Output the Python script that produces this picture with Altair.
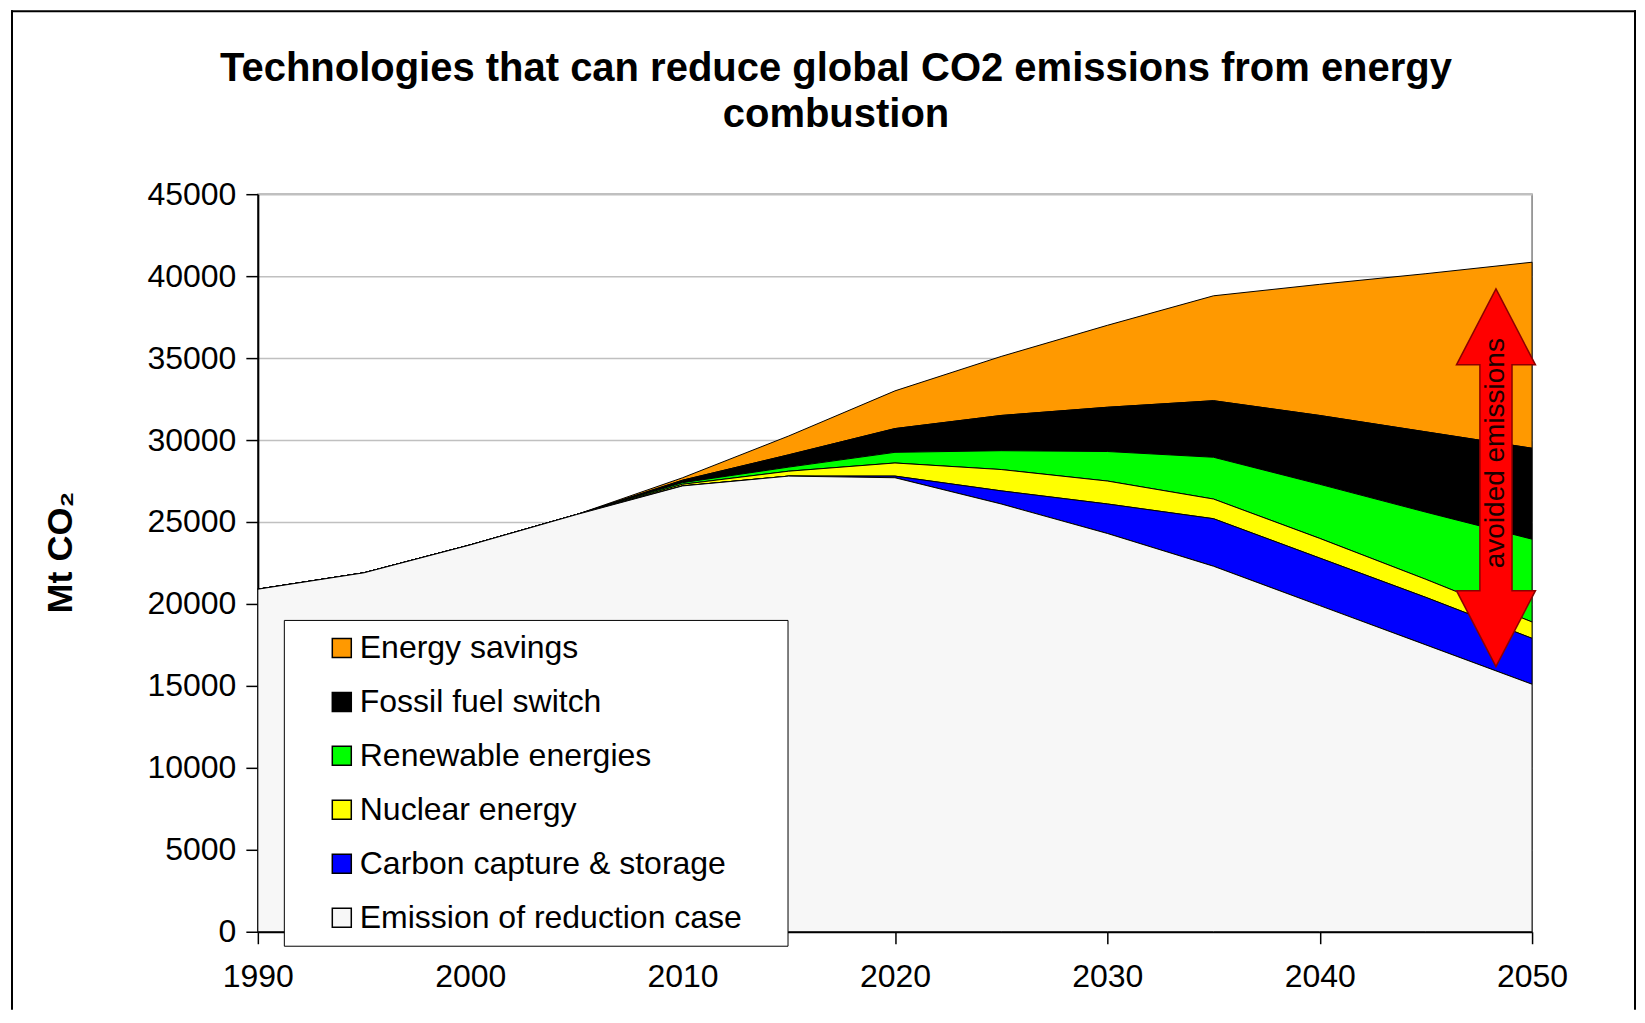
import altair as alt
import pandas as pd

# ---- data (Mt CO2) ----
years = [1990, 1995, 2000, 2005, 2010, 2015, 2020, 2025, 2030, 2035, 2040, 2045, 2050]
reduction_case = [20900, 21900, 23600, 25450, 27200, 27800, 27700, 26100, 24300, 22300, 19900, 17500, 15100]
carbon_capture = [0, 0, 0, 0, 0, 0, 100, 800, 1800, 2900, 2900, 2900, 2800]
nuclear = [0, 0, 0, 0, 100, 300, 800, 1300, 1400, 1200, 1200, 1100, 1000]
renewables = [0, 0, 0, 0, 100, 250, 650, 1150, 1800, 2550, 3300, 4100, 5050]
fossil_switch = [0, 0, 0, 0, 150, 750, 1450, 2150, 2700, 3450, 4200, 4900, 5550]
energy_savings = [0, 0, 0, 0, 150, 1150, 2300, 3600, 5000, 6400, 8000, 9650, 11350]

series_names = ["Energy savings", "Fossil fuel switch", "Renewable energies",
                "Nuclear energy", "Carbon capture & storage", "Emission of reduction case"]
series_colors = ["#ff9900", "#000000", "#00ff00", "#ffff00", "#0000ff", "#f7f7f7"]
series_values = [energy_savings, fossil_switch, renewables, nuclear, carbon_capture, reduction_case]

x_ticks = [1990, 2000, 2010, 2020, 2030, 2040, 2050]
y_ticks = [0, 5000, 10000, 15000, 20000, 25000, 30000, 35000, 40000, 45000]

arrow_year = [2048.3]
arrow_mid = [27700]
arrow_label = ["avoided emissions"]
arrow_label_value = [29200]

title_lines = ["Technologies that can reduce global CO2 emissions from energy", "combustion"]

FONT = "Liberation Sans, Arial, Helvetica, sans-serif"

rows = []
n = len(series_names)
for i, (name, vals) in enumerate(zip(series_names, series_values)):
    for y, v in zip(years, vals):
        rows.append({"year": y, "series": name, "value": v, "rank": n - 1 - i})
df = pd.DataFrame(rows)

areas = alt.Chart(df).mark_area(stroke="black", strokeWidth=1, interpolate="linear").encode(
    x=alt.X("year:Q",
            scale=alt.Scale(domain=[1990, 2050], nice=False, zero=False),
            axis=alt.Axis(values=x_ticks, format="d", grid=False, labelFlush=False,
                          labelPadding=18, tickSize=12),
            title=None),
    y=alt.Y("value:Q", stack="zero",
            scale=alt.Scale(domain=[0, 45000], nice=False),
            axis=alt.Axis(values=y_ticks, format="d", grid=True, labelPadding=10, tickSize=12,
                          titleFontSize=36, titleFontWeight="bold", titleX=-186, titleY=358,
                          titleAngle=270, titleAlign="center", titleBaseline="alphabetic"),
            title="Mt CO\u2082"),
    color=alt.Color("series:N",
                    scale=alt.Scale(domain=series_names, range=series_colors),
                    legend=alt.Legend(orient="none", legendX=26, legendY=426, direction="vertical",
                                      fillColor="white", strokeColor="black",
                                      padding=12, rowPadding=22, symbolType="square",
                                      symbolSize=361, symbolStrokeColor="black",
                                      symbolStrokeWidth=1.5, symbolOffset=30, labelOffset=2,
                                      labelFontSize=32, labelFont=FONT, labelColor="black",
                                      labelLimit=600, titleOrient="right", titlePadding=34,
                                      titleFontSize=4),
                    title="\u00a0"),
    order=alt.Order("rank:Q", sort="ascending"),
)

arrow_df = pd.DataFrame({"year": arrow_year, "value": arrow_mid})
arrow_path = ("M0,-1L0.209,-0.598L0.085,-0.598L0.085,0.598L0.209,0.598L0,1"
              "L-0.209,0.598L-0.085,0.598L-0.085,-0.598L-0.209,-0.598Z")
arrow = alt.Chart(arrow_df).mark_point(
    shape=arrow_path, size=378 * 378, filled=True, fill="#ff0000",
    stroke="#8b0000", strokeWidth=1.5, opacity=1
).encode(x="year:Q", y="value:Q")

label_df = pd.DataFrame({"year": arrow_year, "value": arrow_label_value, "label": arrow_label})
label = alt.Chart(label_df).mark_text(
    angle=270, fontSize=28, font=FONT, color="#1a0000", align="center", baseline="middle"
).encode(x="year:Q", y="value:Q", text="label:N")

# outer figure frame (top, left and right sides; the bottom runs off the page)
frame_df = pd.DataFrame({"f": [0]})
frame_top = alt.Chart(frame_df).mark_rule(color="black", strokeWidth=2, strokeCap="square").encode(
    x=alt.value(-246), x2=alt.value(1378), y=alt.value(-183))
frame_left = alt.Chart(frame_df).mark_rule(color="black", strokeWidth=2, strokeCap="square").encode(
    x=alt.value(-246), y=alt.value(-183), y2=alt.value(815))
frame_right = alt.Chart(frame_df).mark_rule(color="black", strokeWidth=2, strokeCap="square").encode(
    x=alt.value(1378), y=alt.value(-183), y2=alt.value(815))

chart = alt.layer(areas, arrow, label, frame_top, frame_left, frame_right).properties(
    width=1275, height=738,
    padding={"left": 2, "top": 1, "right": 0, "bottom": 0},
    title=alt.Title(text=title_lines, fontSize=40, font=FONT, fontWeight="bold",
                    color="black", anchor="middle", frame="group", dx=-59,
                    offset=-125, lineHeight=46),
).configure_view(
    stroke="#808080", strokeWidth=1.5
).configure_axis(
    labelFont=FONT, labelFontSize=32, labelColor="black",
    titleFont=FONT, titleColor="black",
    tickColor="black", tickWidth=1.5,
    domainColor="black", domainWidth=2,
    gridColor="#c0c0c0", gridWidth=1.5,
)

chart.save("out.html", embed_options={"renderer": "svg", "actions": False})
